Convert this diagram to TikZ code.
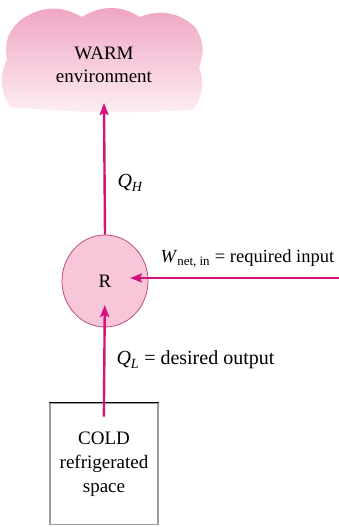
\documentclass[tikz,border=0pt]{standalone}
\usepackage{fontspec}
\setmainfont{Liberation Serif}
\usetikzlibrary{arrows.meta, positioning, calc, shapes.geometric}
\definecolor{flowmag}{HTML}{D4137C}
\definecolor{ringpink}{HTML}{F7C6D9}
\definecolor{ringedge}{HTML}{C24A80}
\definecolor{cloudtop}{HTML}{EFA4C2}
\definecolor{cloudbot}{HTML}{FDEEF4}
\definecolor{boxgray}{HTML}{9A9A9A}

\begin{document}
\begin{tikzpicture}[x=1pt, y=1pt,
    every node/.style={font=\fontsize{19}{23}\selectfont},
    lbl/.style={anchor=base west, font=\fontsize{20}{24}\selectfont},
    flow/.style={draw=flowmag, line width=2.4pt,
                 -{Stealth[length=12pt, width=9pt, inset=2pt]}},
    ringnode/.style={ellipse, draw=ringedge, fill=ringpink, line width=0.8pt,
                     minimum width=86, minimum height=92, inner sep=0pt},
    coldbox/.style={rectangle, draw=boxgray, line width=1.8pt,
                    minimum width=108, minimum height=121, align=center,
                    font=\fontsize{19}{24}\selectfont},
]
\useasboundingbox (0,0) rectangle (339,527);

% warm side
\path[top color=cloudtop, bottom color=cloudbot]
    (10,420) to[bend left=28] (7,468) to[bend left=32] (22,508)
    to[bend left=32] (82,510) to[bend left=32] (140,510)
    to[bend left=32] (195,500) to[bend left=28] (199,460)
    to[bend left=28] (193,417) to[bend left=4] cycle;
\node[align=center] (warm) at (104,462) {WARM\\environment};
\coordinate (warmin) at (104,424);

% refrigerator
\node[ringnode] (R) at (105,246) {R};
\coordinate (wsrc) at (339,249);

% cold side
\node[coldbox] (cold) at (104,63) {COLD\\refrigerated\\space};
\draw[black, line width=1.8pt] (cold.north west) -- (cold.north east);

\draw[flow] (R.north) -- (warmin);
\draw[flow, shorten >=25pt] (wsrc) -- (wsrc -| R.center);
\draw[flow, shorten <=-14pt, shorten >=24pt] (cold.north) -- (R.center);

\node[lbl] (qh) at (114,339) {\textit{Q}\textsubscript{\textit{H}}};
\node[lbl, font=\fontsize{18.5}{22}\selectfont] (wnet) at (157,264)
    {\textit{W}\textsubscript{net, in} = required input};
\node[lbl] (ql) at (113,162)
    {\textit{Q}\textsubscript{\textit{L}} = desired output};
\end{tikzpicture}
\end{document}
